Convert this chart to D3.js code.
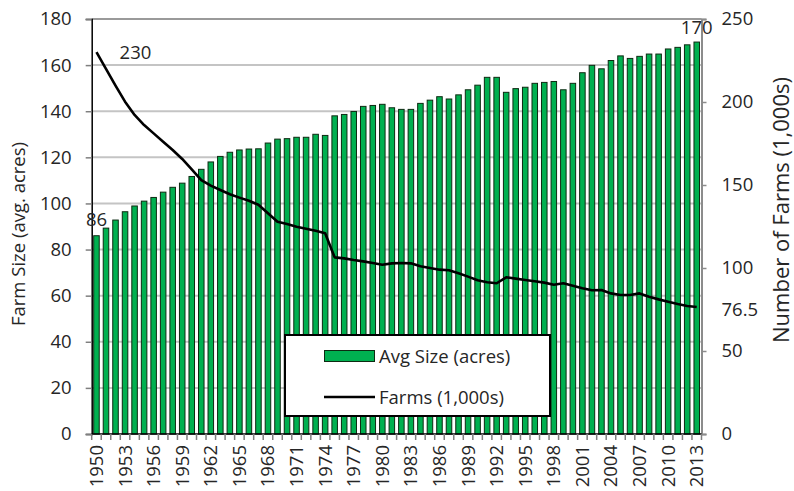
<!DOCTYPE html>
<html><head><meta charset="utf-8">
<script src="https://cdn.jsdelivr.net/npm/d3@7"></script>
<style>body{margin:0;background:#fff;} text{font-family:"Open Sans",sans-serif;}</style>
</head><body>
<svg id="c" width="794" height="491"></svg>
<script>
const years = d3.range(1950, 2014);
const avgSize = [86,89.3,92.8,96.4,98.9,101,102.6,104.9,107,108.8,111.7,114.8,118,120.4,122.2,123.2,123.6,123.7,126.2,127.9,128.1,128.7,128.7,130,129.5,138,138.6,139.9,142.1,142.5,143,141.5,140.8,140.8,143.4,144.8,146.3,145.3,147.1,149.3,151.3,154.7,154.7,148.2,149.8,150.4,152.1,152.5,152.9,149.3,152.1,156.7,159.9,158.4,162,164,162.9,163.8,164.8,164.8,167,167.7,168.8,170];
const farms = [230,219.9,209.8,200.2,192.2,186.1,181.1,176.1,171.1,165.7,159.4,153,149.6,147,144.4,142.4,140.5,138.1,133,127.9,126.5,124.9,123.7,122.5,120.9,106.4,105.8,104.8,104,103,102,102.8,103,102.8,101,100,99,98.6,96.8,94.8,92.6,91.4,90.8,94.4,93.6,92.8,92,91.2,89.9,90.8,89.3,87.8,86.6,86.7,84.7,83.7,83.7,84.7,82.7,81.1,79.7,78.3,77.1,76.5];
const leftTicks = [0,20,40,60,80,100,120,140,160,180];
const rightTicks = [0,50,100,150,200,250];
const xTickYears = d3.range(1950, 2014, 3);
const seriesNames = ["Avg Size (acres)", "Farms (1,000s)"];
const leftTitle = "Farm Size (avg. acres)";
const rightTitle = "Number of Farms (1,000s)";

const svg = d3.select("#c");
const L = 91.7, R = 701.5, T = 19, B = 434;
const x = d3.scaleBand().domain(years).range([L, R]).paddingInner(0.42).paddingOuter(0.21);
const yL = d3.scaleLinear().domain([0,180]).range([B, T]);
const yR = d3.scaleLinear().domain([0,250]).range([B, T]);
const txt = "#262626";
const FS = 18.5;

// gridlines
svg.append("g").selectAll("line").data(leftTicks.filter(d=>d>0)).join("line")
  .attr("x1", L).attr("x2", R).attr("y1", d=>yL(d)).attr("y2", d=>yL(d))
  .attr("stroke", d=> d===180 ? "#9a9a9a" : "#c4c4c4").attr("stroke-width", 2);

// bars
svg.append("g").selectAll("rect").data(years).join("rect")
  .attr("x", (d)=>x(d)).attr("width", x.bandwidth())
  .attr("y", (d,i)=>yL(avgSize[i])).attr("height", (d,i)=>B - yL(avgSize[i]))
  .attr("fill", "#00b050").attr("stroke", "#0d2a12").attr("stroke-width", 1);

// line
const line = d3.line().x((d,i)=>x(years[i]) + x.bandwidth()/2).y(d=>yR(d)).curve(d3.curveLinear);
svg.append("path").datum(farms).attr("d", line).attr("fill","none")
  .attr("stroke","#000").attr("stroke-width",2.6).attr("stroke-linejoin","round");

// left axis
const gl = svg.append("g").attr("transform",`translate(${L},0)`)
  .call(d3.axisLeft(yL).tickValues(leftTicks).tickSize(6).tickPadding(14));
gl.select(".domain").attr("stroke","#000").attr("stroke-width",1.5);
gl.selectAll(".tick line").attr("stroke","#7f7f7f").attr("stroke-width",1.5);
gl.selectAll("text").attr("font-size",FS).attr("fill",txt).style("font-family","Open Sans");

// right axis
const gr = svg.append("g").attr("transform",`translate(${R},0)`)
  .call(d3.axisRight(yR).tickValues(rightTicks).tickSize(5).tickPadding(15));
gr.select(".domain").attr("stroke","#8c8c8c").attr("stroke-width",2);
gr.selectAll(".tick line").attr("stroke","#8c8c8c").attr("stroke-width",1.5);
gr.selectAll("text").attr("font-size",FS).attr("fill",txt).style("font-family","Open Sans");

// x axis
const gx = svg.append("g").attr("transform",`translate(0,${B})`);
gx.append("line").attr("x1",L).attr("x2",R).attr("stroke","#000").attr("stroke-width",1.5);
gx.selectAll("line.t").data(years.concat([2014])).join("line").attr("class","t")
  .attr("x1",(d,i)=> L + (R-L)*i/years.length).attr("x2",(d,i)=> L + (R-L)*i/years.length)
  .attr("y1",0).attr("y2",6).attr("stroke","#7f7f7f").attr("stroke-width",1.5);
gx.selectAll("text").data(xTickYears).join("text")
  .attr("transform", d=>`translate(${x(d)+x.bandwidth()/2+6.5},11) rotate(-90)`)
  .attr("text-anchor","end").attr("font-size",FS).attr("fill",txt).text(d=>d);

// axis titles
svg.append("text").attr("transform",`translate(25,234) rotate(-90)`).attr("text-anchor","middle")
  .attr("font-size",FS).attr("fill",txt).text(leftTitle);
svg.append("text").attr("transform",`translate(788.5,210) rotate(-90)`).attr("text-anchor","middle")
  .attr("font-size",22).attr("fill",txt).text(rightTitle);

// data labels
const n = years.length-1;
svg.append("text").attr("x", x(years[0]) + x.bandwidth()/2).attr("y", yL(avgSize[0]) - 10)
  .attr("text-anchor","middle").attr("font-size",FS).attr("fill",txt).text(avgSize[0]);
svg.append("text").attr("x", x(years[n]) + x.bandwidth()/2).attr("y", yL(avgSize[n]) - 8)
  .attr("text-anchor","middle").attr("font-size",FS).attr("fill",txt).text(avgSize[n]);
svg.append("text").attr("x", x(years[0]) + x.bandwidth()/2 + 39).attr("y", yR(farms[0]) + 7)
  .attr("text-anchor","middle").attr("font-size",FS).attr("fill",txt).text(farms[0]);
svg.append("text").attr("x", R + 20).attr("y", yR(farms[n]) + 9)
  .attr("text-anchor","start").attr("font-size",FS).attr("fill",txt).text(farms[n]);

// legend
const lg = svg.append("g");
lg.append("rect").attr("x",285).attr("y",335).attr("width",265).attr("height",81)
  .attr("fill","#fff").attr("stroke","#000").attr("stroke-width",2);
lg.append("rect").attr("x",324.5).attr("y",350.5).attr("width",50).attr("height",11)
  .attr("fill","#00b050").attr("stroke","#0d2a12").attr("stroke-width",1);
lg.append("text").attr("x",379).attr("y",362.5).attr("font-size",FS).attr("fill",txt).text(seriesNames[0]);
lg.append("line").attr("x1",324).attr("x2",375).attr("y1",397).attr("y2",397)
  .attr("stroke","#000").attr("stroke-width",2.6);
lg.append("text").attr("x",379).attr("y",403.5).attr("font-size",FS).attr("fill",txt).text(seriesNames[1]);
</script>
</body></html>
